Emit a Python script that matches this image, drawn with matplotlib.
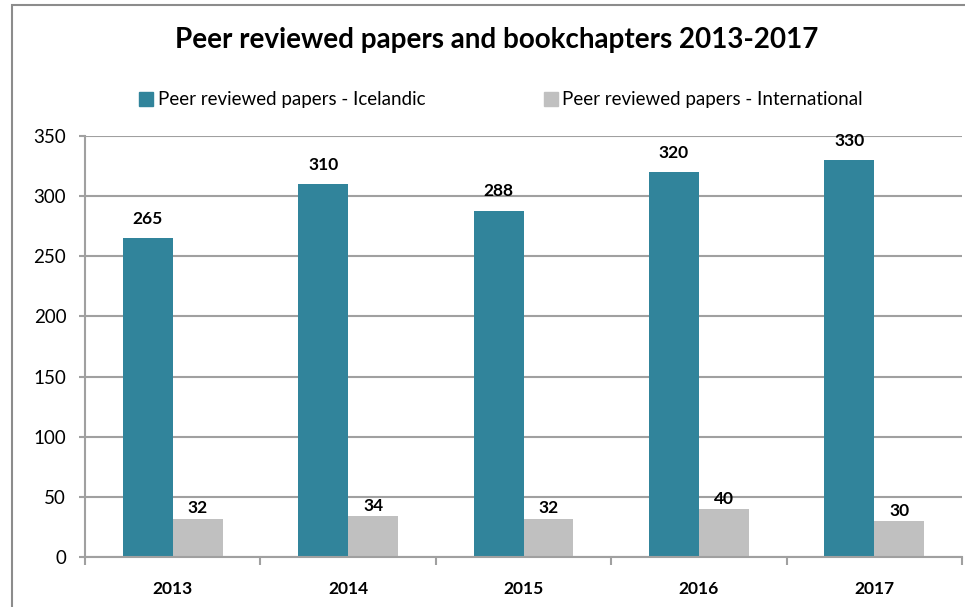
import matplotlib
matplotlib.use("Agg")
import matplotlib.pyplot as plt
import matplotlib.patches as mpatches
import numpy as np

plt.rcParams['font.family'] = ['Lato', 'DejaVu Sans']

# data
years = ['2013', '2014', '2015', '2016', '2017']
icelandic = [265, 310, 288, 320, 330]
international = [32, 34, 32, 40, 30]

blue = '#31849B'
grey = '#C0C0C0'
line_col = '#A0A0A0'

fig = plt.figure(figsize=(9.65, 6.07), dpi=100)
ax = fig.add_axes([85/965, 1-557/607, 877/965, (557-136)/607])

x = np.arange(len(years))
w = 0.285
b1 = ax.bar(x - w/2, icelandic, w, color=blue, edgecolor='none', zorder=3, label='Peer reviewed papers - Icelandic')
b2 = ax.bar(x + w/2, international, w, color=grey, edgecolor='none', zorder=3, label='Peer reviewed papers - International')

for r, v in zip(b1, icelandic):
    ax.annotate(str(v), (r.get_x() + r.get_width()/2, v), xytext=(0, 8), textcoords='offset points',
                ha='center', va='bottom', fontsize=12.5, fontweight='bold')
for r, v in zip(b2, international):
    ax.annotate(str(v), (r.get_x() + r.get_width()/2, v), xytext=(0, 1.5), textcoords='offset points',
                ha='center', va='bottom', fontsize=12.5, fontweight='bold')

ax.set_xlim(-0.5, len(years) - 0.5)
ax.set_ylim(0, 350)
ax.set_yticks(range(0, 351, 50))
ax.set_xticks(x)
ax.set_xticklabels(years, fontweight='bold', fontsize=12.5)
ax.set_xticks(np.arange(-0.5, len(years), 1), minor=True)
ax.tick_params(axis='x', which='major', length=0, pad=17)
ax.tick_params(axis='x', which='minor', length=6, width=1.5, color=line_col, direction='out')
ax.tick_params(axis='y', length=4.5, width=1.5, color=line_col, labelsize=13.5, pad=9)

ax.yaxis.grid(True, color=line_col, linewidth=1.5, zorder=0)
for s in ['top', 'right']:
    ax.spines[s].set_visible(False)
for s in ['left', 'bottom']:
    ax.spines[s].set_color(line_col)
    ax.spines[s].set_linewidth(1.5)
    ax.spines[s].set_zorder(4)

fig.text(497/965, 1-40/607, 'Peer reviewed papers and bookchapters 2013-2017',
         ha='center', va='center', fontsize=20, fontweight='bold')

handles = [mpatches.Patch(color=blue), mpatches.Patch(color=grey)]
fig.legend(handles, ['Peer reviewed papers - Icelandic', 'Peer reviewed papers - International'],
           loc='center', bbox_to_anchor=(501/965, 1-100/607), ncol=2, frameon=False,
           fontsize=13.5, handlelength=0.75, handleheight=0.75, handletextpad=0.25, columnspacing=6.3)

# outer chart border
fig.patches.append(mpatches.Rectangle((12/965, -0.05), 1.0, 1-5/607 + 0.05, transform=fig.transFigure,
                                      fill=False, edgecolor='#8C8C8C', linewidth=1.5))

fig.savefig('out.png', dpi=100)
